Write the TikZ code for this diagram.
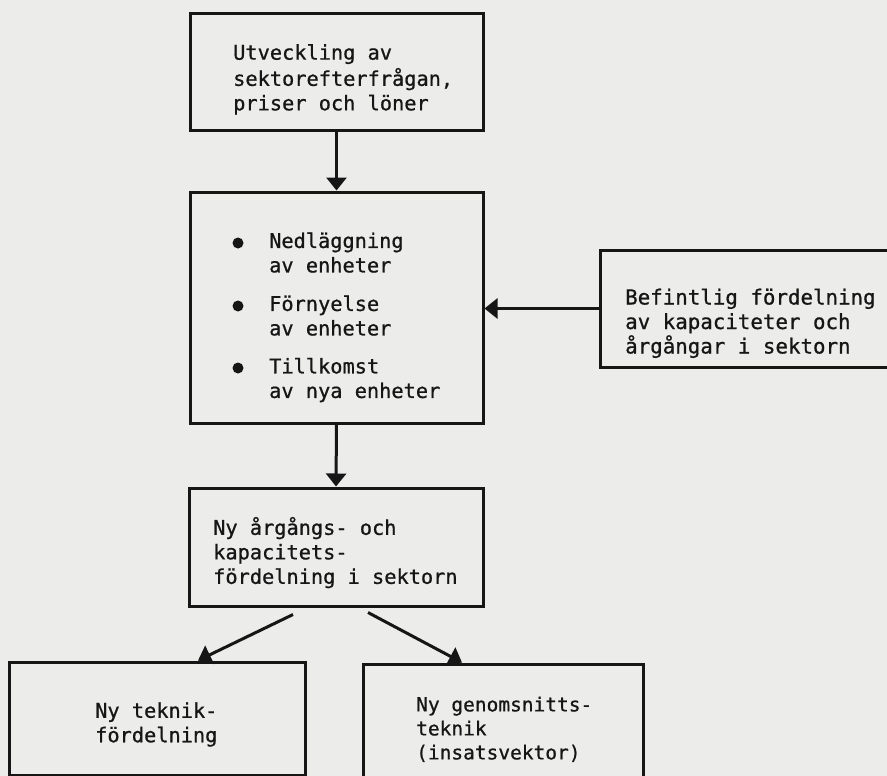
\documentclass[tikz,border=0pt]{standalone}
\usepackage{fontspec}
\newfontfamily\typew{DejaVu Sans Mono}[FakeBold=0.8]
\usetikzlibrary{arrows.meta}
\definecolor{paper}{RGB}{236,236,234}
\definecolor{ink}{RGB}{22,22,22}
\begin{document}
\begin{tikzpicture}[x=1pt,y=-1pt,
  box/.style={draw=ink, line width=3pt, inner sep=0pt},
  txt/.style={font=\typew\fontsize{20.3}{24.5}\selectfont, text=ink, align=left, anchor=west, inner sep=0pt},
  arr/.style={draw=ink, line width=3pt, -{Triangle[width=20pt,length=13pt]}},
  dot/.style={circle, fill=ink, inner sep=0pt, minimum size=11pt}]
\fill[paper] (0,0) rectangle (887,776);
\useasboundingbox (0,0) rectangle (887,776);
\clip (0,0) rectangle (887,776);

% boxes
\node[box, minimum width=293pt, minimum height=116pt] (utv) at (336.5,72) {};
\node[box, minimum width=293pt, minimum height=231pt] (forl) at (336.5,307.5) {};
\node[box, minimum width=294pt, minimum height=118pt] (ny) at (336,547) {};
\node[box, minimum width=340pt, minimum height=117pt] (bef) at (770,308.5) {};
\node[box, minimum width=296pt, minimum height=113pt] (tek) at (157,718.5) {};
\node[box, minimum width=280pt, minimum height=132pt] (gen) at (503,730) {};

% texts
\node[txt] (tutv) at (233,80.1) {\strut Utveckling av\\sektorefterfrågan,\\priser och löner\strut};
\node[txt] (t1) at (269,255.3) {\strut Nedläggning\\av enheter\strut};
\node[txt] (t2) at (269,318.3) {\strut Förnyelse\\av enheter\strut};
\node[txt] (t3) at (269,380.8) {\strut Tillkomst\\av nya enheter\strut};
\node[dot] (b1) at (238,243) {};
\node[dot] (b2) at (238,306) {};
\node[dot] (b3) at (238,368) {};
\node[txt, font=\typew\fontsize{20.8}{24.5}\selectfont] (tbef) at (625,324.1) {\strut Befintlig fördelning\\av kapaciteter och\\årgångar i sektorn\strut};
\node[txt] (tny) at (213,554.1) {\strut Ny årgångs- och\\kapacitets-\\fördelning i sektorn\strut};
\node[txt] (ttek) at (95,725.1) {\strut Ny teknik-\\fördelning\strut};
\node[txt, font=\typew\fontsize{19.5}{24}\selectfont] (tgen) at (416,730.6) {\strut Ny genomsnitts-\\teknik\\(insatsvektor)\strut};

% connectors
\draw[arr] (utv.south) -- (forl.north);
\draw[arr] (forl.south) -- (ny.north);
\draw[arr] (bef.west) -- (bef.west -| forl.east);
\draw[arr] ([xshift=-43pt,yshift=-7pt]ny.south) -- ([xshift=41pt]tek.north);
\draw[arr] ([xshift=32pt,yshift=-5pt]ny.south) -- ([xshift=-41pt]gen.north);
\end{tikzpicture}
\end{document}
